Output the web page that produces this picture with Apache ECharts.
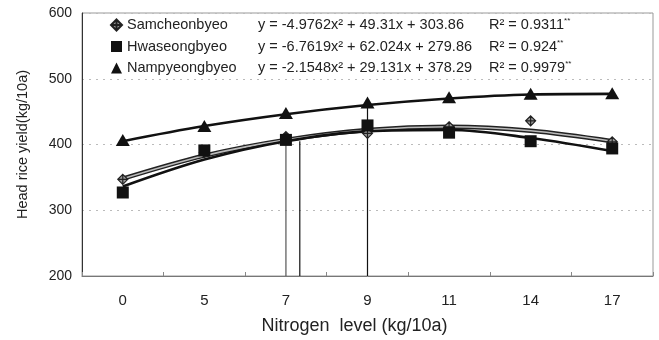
<!DOCTYPE html>
<html><head><meta charset="utf-8">
<script src="https://cdn.jsdelivr.net/npm/echarts@6/dist/echarts.min.js"></script>
<style>html,body{margin:0;padding:0;background:#fff}#c{width:659px;height:340px}</style>
</head><body><div id="c"></div>
<script>
// ---- data ----
const categories = ['0', '5', '7', '9', '11', '14', '17'];
const samcheon = [347, 388, 412, 417, 427, 436, 404];
const hwaseong = [327, 391, 407, 429, 418, 405, 394];
const nampyeong = [407, 428, 448, 464, 472, 477, 478];
const samcheonTrend = [348, 383, 407, 422, 427, 421, 405];
const hwaseongTrend = [336, 377, 405, 420, 422, 410, 390];
const nampyeongTrend = [405, 428, 446, 460, 470, 476, 477];
const yTicks = [200, 300, 400, 500, 600];
// drop lines: [x position in category units, top value]
const dropLines = [[2, 410], [2.17, 405], [3, 463]];
const legendNames = ['Samcheonbyeo', 'Hwaseongbyeo', 'Nampyeongbyeo'];
const equations = ['y = -4.9762x² + 49.31x + 303.86', 'y = -6.7619x² + 62.024x + 279.86', 'y = -2.1548x² + 29.131x + 378.29'];
const rSquared = ['R² = 0.9311', 'R² = 0.924', 'R² = 0.9979'];

const chart = echarts.init(document.getElementById('c'), null, {renderer: 'canvas'});
const txt = '#222';
const ff = 'Liberation Sans';
const diamondPath = 'path://M0,-10 L10,0 L0,10 L-10,0 Z M0,-10 L0,10 M-10,0 L10,0';

const dropSeries = dropLines.map((d, i) => ({
  type: 'line', xAxisIndex: 1, yAxisIndex: 0, silent: true, symbol: 'none',
  data: [[d[0], yTicks[0]], [d[0], d[1]]],
  lineStyle: {color: i === 0 ? '#555' : '#111', width: 1.2}, z: 1
}));

const option = {
  animation: false,
  backgroundColor: '#fff',
  textStyle: {fontFamily: ff, color: txt},
  grid: {left: 82, right: 6, top: 13, bottom: 61, show: true, borderColor: '#999', borderWidth: 1},
  legend: {
    orient: 'vertical', left: 105, top: 12, itemGap: 6, itemWidth: 11, itemHeight: 11,
    data: legendNames,
    formatter: function (name) {
      const i = legendNames.indexOf(name);
      return '{n|' + name + '}{e|' + equations[i] + '}{r|' + rSquared[i] + '}{s|**}';
    },
    textStyle: {
      fontFamily: ff, color: txt, fontSize: 14.5,
      rich: {
        n: {width: 131, fontSize: 14.5, lineHeight: 16, color: txt, fontFamily: ff},
        e: {width: 231, fontSize: 14.5, lineHeight: 16, color: txt, fontFamily: ff},
        r: {fontSize: 14.5, lineHeight: 16, color: txt, fontFamily: ff},
        s: {fontSize: 8, verticalAlign: 'top', lineHeight: 16, color: txt, padding: [0, 0, 7, 0], fontFamily: ff}
      }
    }
  },
  xAxis: [{
    type: 'category', data: categories, boundaryGap: true,
    name: 'Nitrogen  level (kg/10a)', nameLocation: 'middle', nameGap: 41,
    nameTextStyle: {fontSize: 18, color: txt, fontFamily: ff, padding: [0, 26, 0, 0]},
    axisLine: {show: true, onZero: false, lineStyle: {color: '#777', width: 1}},
    axisTick: {show: true, inside: true, length: 4, lineStyle: {color: '#888'}},
    axisLabel: {fontSize: 15, color: txt, margin: 17, fontFamily: ff},
    splitLine: {show: false}
  }, {
    type: 'value', min: -0.5, max: 6.5, show: false
  }],
  yAxis: {
    type: 'value', min: yTicks[0], max: yTicks[yTicks.length - 1], interval: 100,
    name: 'Head rice yield(kg/10a)', nameLocation: 'middle', nameGap: 52,
    nameTextStyle: {fontSize: 14.5, color: txt, fontFamily: ff},
    axisLine: {show: true, onZero: false, lineStyle: {color: '#333', width: 1}},
    axisTick: {show: false},
    axisLabel: {fontSize: 14, color: txt, margin: 10, fontFamily: ff},
    splitLine: {show: true, lineStyle: {color: '#bbb', type: [2, 5], width: 1}}
  },
  series: [
    ...dropSeries,
    {type: 'line', name: 'tS', data: samcheonTrend, smooth: 0.35, symbol: 'none', silent: true,
     lineStyle: {color: '#222', width: 4.5}, z: 2},
    {type: 'line', name: 'tS2', data: samcheonTrend, smooth: 0.35, symbol: 'none', silent: true,
     lineStyle: {color: '#bbb', width: 1.6}, z: 3},
    {type: 'line', name: 'tH', data: hwaseongTrend, smooth: 0.35, symbol: 'none', silent: true,
     lineStyle: {color: '#111', width: 2.6}, z: 3},
    {type: 'line', name: 'tN', data: nampyeongTrend, smooth: 0.35, symbol: 'none', silent: true,
     lineStyle: {color: '#111', width: 2.6}, z: 3},
    {type: 'scatter', name: 'Samcheonbyeo', data: samcheon, symbol: diamondPath, symbolSize: 10,
     itemStyle: {color: '#999', borderColor: '#222', borderWidth: 1.2, opacity: 1}, z: 4},
    {type: 'scatter', name: 'Hwaseongbyeo', data: hwaseong, symbol: 'rect', symbolSize: 12,
     itemStyle: {color: '#111', opacity: 1}, z: 5},
    {type: 'scatter', name: 'Nampyeongbyeo', data: nampyeong, symbol: 'triangle', symbolSize: [14, 12],
     itemStyle: {color: '#111', opacity: 1}, z: 5}
  ]
};
chart.setOption(option);
</script>
</body></html>
